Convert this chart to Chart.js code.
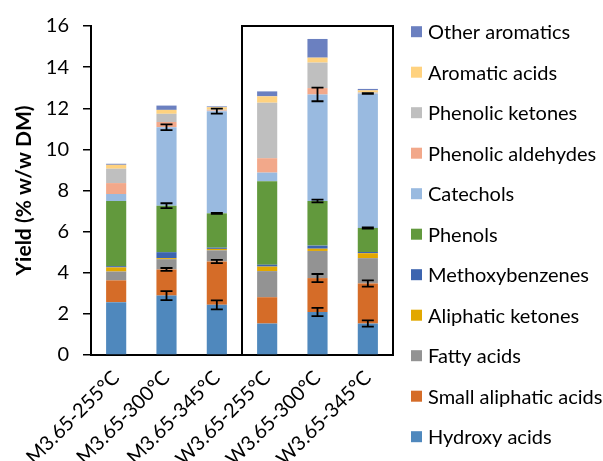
<!DOCTYPE html>
<html>
<head>
<meta charset="utf-8">
<script src="https://cdn.jsdelivr.net/npm/chart.js@4.4.0/dist/chart.umd.min.js"></script>
<style>
  html, body { margin: 0; padding: 0; background: #ffffff; }
  #wrap { width: 603px; height: 461px; }
</style>
</head>
<body>
<div id="wrap"><canvas id="c" width="603" height="461"></canvas></div>
<script>
// Samples (reactor temperature series)
const categories = ['M3.65-255°C', 'M3.65-300°C', 'M3.65-345°C', 'W3.65-255°C', 'W3.65-300°C', 'W3.65-345°C'];

// Yields per compound class (% w/w DM), stacked bottom to top
const hydroxyAcids       = [2.57, 2.89, 2.44, 1.53, 2.09, 1.53];
const smallAliphaticAcids= [1.06, 1.27, 2.11, 1.28, 1.65, 1.95];
const fattyAcids         = [0.43, 0.50, 0.54, 1.27, 1.32, 1.23];
const aliphaticKetones   = [0.20, 0.05, 0.07, 0.22, 0.11, 0.24];
const methoxybenzenes    = [0.06, 0.29, 0.06, 0.09, 0.15, 0.06];
const phenols            = [3.17, 2.26, 1.67, 4.06, 2.17, 1.17];
const catechols          = [0.34, 3.82, 4.97, 0.42, 5.18, 6.54];
const phenolicAldehydes  = [0.53, 0.25, 0.03, 0.70, 0.31, 0.02];
const phenolicKetones    = [0.70, 0.40, 0.04, 2.70, 1.24, 0.03];
const aromaticAcids      = [0.19, 0.19, 0.12, 0.31, 0.24, 0.10];
const otherAromatics     = [0.05, 0.21, 0.04, 0.24, 0.91, 0.07];

// Standard deviations (null = not measured)
const errHydroxyAcids    = [null, 0.22, 0.22, null, 0.20, 0.15];
const errSmallAliphatic  = [null, 0.07, 0.08, null, 0.20, 0.15];
const errPhenols         = [null, 0.12, 0.02, null, 0.07, 0.03];
const errCatechols       = [null, 0.14, 0.12, null, 0.33, 0.02];

const yTicks = [0, 2, 4, 6, 8, 10, 12, 14, 16];

const FONT = 'Lato, "Open Sans", sans-serif';

const series = [
  { label: 'Hydroxy acids',         data: hydroxyAcids,        color: '#4f88bd', err: errHydroxyAcids },
  { label: 'Small aliphatic acids', data: smallAliphaticAcids, color: '#d56c28', err: errSmallAliphatic },
  { label: 'Fatty acids',           data: fattyAcids,          color: '#939393' },
  { label: 'Aliphatic ketones',     data: aliphaticKetones,    color: '#e2a800' },
  { label: 'Methoxybenzenes',       data: methoxybenzenes,     color: '#3c64af' },
  { label: 'Phenols',               data: phenols,             color: '#62993d', err: errPhenols },
  { label: 'Catechols',             data: catechols,           color: '#99bae0', err: errCatechols },
  { label: 'Phenolic aldehydes',    data: phenolicAldehydes,   color: '#f2a88a' },
  { label: 'Phenolic ketones',      data: phenolicKetones,     color: '#bfbfbf' },
  { label: 'Aromatic acids',        data: aromaticAcids,       color: '#ffd27f' },
  { label: 'Other aromatics',       data: otherAromatics,      color: '#6b80c0' }
];

// Error bars drawn at the cumulative top of each stacked segment
const errorBars = {
  id: 'errorBars',
  afterDatasetsDraw(chart) {
    const { ctx, scales: { x, y } } = chart;
    ctx.save();
    ctx.strokeStyle = '#000000';
    ctx.lineWidth = 1.8;
    chart.data.datasets.forEach((ds, di) => {
      if (!ds.err) return;
      ds.err.forEach((e, i) => {
        if (e == null) return;
        let cum = 0;
        for (let k = 0; k <= di; k++) cum += chart.data.datasets[k].data[i];
        const px = x.getPixelForValue(i);
        const yHi = y.getPixelForValue(cum + e);
        const yLo = y.getPixelForValue(cum - e);
        const cap = 6;
        ctx.beginPath();
        ctx.moveTo(px, yHi); ctx.lineTo(px, yLo);
        ctx.moveTo(px - cap, yHi); ctx.lineTo(px + cap, yHi);
        ctx.moveTo(px - cap, yLo); ctx.lineTo(px + cap, yLo);
        ctx.stroke();
      });
    });
    ctx.restore();
  }
};

// Box around the W-series group, with a divider between the two groups
const groupFrame = {
  id: 'groupFrame',
  afterDatasetsDraw(chart) {
    const { ctx, chartArea: a, scales: { x } } = chart;
    const div = (x.getPixelForValue(2) + x.getPixelForValue(3)) / 2;
    ctx.save();
    ctx.strokeStyle = '#000000';
    ctx.lineWidth = 2;
    ctx.beginPath();
    ctx.moveTo(div, a.bottom);
    ctx.lineTo(div, a.top);
    ctx.lineTo(a.right, a.top);
    ctx.lineTo(a.right, a.bottom);
    ctx.stroke();
    ctx.restore();
  }
};

// Legend listed top-down in reverse stacking order
const sideLegend = {
  id: 'sideLegend',
  afterDraw(chart) {
    const { ctx } = chart;
    const items = chart.data.datasets.slice().reverse();
    ctx.save();
    ctx.font = '20px ' + FONT;
    ctx.textBaseline = 'middle';
    ctx.textAlign = 'left';
    items.forEach((ds, i) => {
      const cy = 31.7 + i * 40.5;
      ctx.fillStyle = ds.backgroundColor;
      ctx.fillRect(411, cy - 5.5, 11, 11);
      ctx.fillStyle = '#000000';
      ctx.fillText(ds.label, 428, cy + 1);
    });
    ctx.restore();
  }
};

new Chart(document.getElementById('c'), {
  type: 'bar',
  data: {
    labels: categories,
    datasets: series.map(s => ({
      label: s.label,
      data: s.data,
      backgroundColor: s.color,
      borderWidth: 0,
      err: s.err,
      barPercentage: 0.4,
      categoryPercentage: 1.0
    }))
  },
  options: {
    responsive: false,
    animation: false,
    devicePixelRatio: 1,
    layout: { autoPadding: false, padding: { left: 0, right: 210, top: 23, bottom: 0 } },
    plugins: {
      legend: { display: false },
      tooltip: { enabled: false }
    },
    scales: {
      x: {
        stacked: true,
        grid: { display: false, drawTicks: false },
        border: { display: true, color: '#000000', width: 2 },
        ticks: {
          color: '#000000',
          font: { family: FONT, size: 20 },
          maxRotation: 45,
          minRotation: 45,
          autoSkip: false,
          padding: 11
        },
        afterFit(scale) { scale.height = 106; }
      },
      y: {
        stacked: true,
        min: 0,
        max: 16,
        afterBuildTicks(scale) { scale.ticks = yTicks.map(v => ({ value: v })); },
        grid: { drawOnChartArea: false, drawTicks: true, tickLength: 8, color: '#000000', lineWidth: 1.5 },
        border: { display: true, color: '#000000', width: 2 },
        ticks: {
          color: '#000000',
          font: { family: FONT, size: 20 },
          padding: 14
        },
        title: {
          display: true,
          text: 'Yield (% w/w DM)',
          color: '#000000',
          font: { family: FONT, size: 21, weight: 'bold' },
          padding: { top: 12, bottom: 0 }
        },
        afterFit(scale) { scale.width = 91; }
      }
    }
  },
  plugins: [errorBars, groupFrame, sideLegend]
});
</script>
</body>
</html>
